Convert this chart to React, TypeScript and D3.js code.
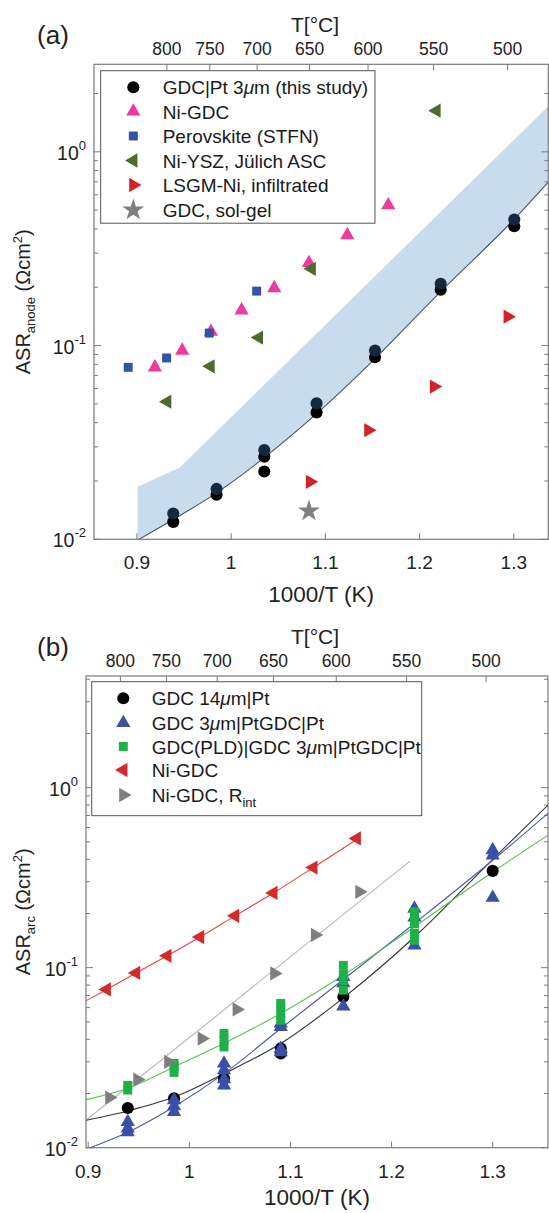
import * as d3 from "d3";
import type { ReactNode } from "react";

const FONT = "'Liberation Sans', Arial, Helvetica, sans-serif";
const W = 549;
const H = 1213;

// ---------- panel (a): ASR anode ----------
const gdcPtUpperX = [0.9386, 0.9846, 1.0352, 1.0907, 1.1527, 1.2224, 1.3005];
const gdcPtUpperY = [0.0136, 0.0182, 0.0289, 0.0503, 0.0942, 0.2085, 0.447];
const gdcPtLowerX = [0.9386, 0.9846, 1.0352, 1.0352, 1.0907, 1.1527, 1.2224, 1.3005];
const gdcPtLowerY = [0.0123, 0.017, 0.0267, 0.0224, 0.0452, 0.087, 0.194, 0.413];
const niGdcX = [0.9191, 0.9481, 0.9786, 1.0111, 1.0458, 1.0826, 1.1233, 1.1668];
const niGdcY = [0.0772, 0.0942, 0.118, 0.152, 0.198, 0.267, 0.371, 0.53];
const stfnX = [0.8908, 0.9315, 0.9768, 1.0271];
const stfnY = [0.0772, 0.0863, 0.116, 0.191];
const niYszX = [0.9322, 0.9782, 1.0295, 1.0855, 1.218];
const niYszY = [0.0513, 0.0781, 0.11, 0.249, 1.63];
const lsgmX = [1.0837, 1.1456, 1.2153, 1.2935];
const lsgmY = [0.0198, 0.0366, 0.0614, 0.141];
const solGelX = [1.0826];
const solGelY = [0.014];
const fitAX = [0.9007, 0.9386, 0.9846, 1.0352, 1.0907, 1.1527, 1.2224, 1.3005, 1.3366];
const fitAY = [0.0099, 0.01265, 0.01737, 0.0264, 0.0445, 0.0857, 0.19, 0.449, 0.697];
const bandTopX = [0.9007, 0.9456, 1.3366];
const bandTopY = [0.01866, 0.02346, 1.72];

// ---------- panel (b): ASR arc ----------
const gdc14X = [0.9391, 0.9849, 1.0343, 1.0904, 1.0904, 1.1523, 1.3];
const gdc14Y = [0.0166, 0.0188, 0.0242, 0.0356, 0.0334, 0.0689, 0.345];
const gdc3X = [0.9391, 0.9391, 0.9391, 0.9849, 0.9849, 0.9849, 1.0343, 1.0343, 1.0343, 1.0343,
  1.0904, 1.0904, 1.0904, 1.0904, 1.1523, 1.1523, 1.1523, 1.2226, 1.2226, 1.2226, 1.3, 1.3, 1.3];
const gdc3Y = [0.0139, 0.0128, 0.0122, 0.0184, 0.017, 0.0158, 0.0294, 0.027, 0.024, 0.0222,
  0.049, 0.0469, 0.0355, 0.034, 0.0889, 0.082, 0.061, 0.213, 0.19, 0.133, 0.45, 0.42, 0.245];
const pldX = [0.9391, 0.9391, 0.9849, 0.9849, 0.9849, 1.0343, 1.0343, 1.0343, 1.0904, 1.0904, 1.0904,
  1.0904, 1.1523, 1.1523, 1.1523, 1.1523, 1.2226, 1.2226, 1.2226, 1.2226, 1.2226];
const pldY = [0.0209, 0.0222, 0.0262, 0.0282, 0.0294, 0.0363, 0.0395, 0.0431, 0.0511, 0.0555, 0.06,
  0.0633, 0.075, 0.085, 0.092, 0.103, 0.142, 0.155, 0.175, 0.195, 0.204];
const niGdcBX = [0.9183, 0.9473, 0.9782, 1.0106, 1.0452, 1.0831, 1.1227, 1.1656];
const niGdcBY = [0.0757, 0.0935, 0.1164, 0.148, 0.194, 0.26, 0.36, 0.522];
const rintX = [0.9209, 0.9486, 0.9792, 1.0123, 1.0469, 1.0841, 1.1243, 1.1682];
const rintY = [0.019, 0.0239, 0.03, 0.0404, 0.0586, 0.0929, 0.152, 0.264];
const fit14X = [0.8978, 0.9391, 0.9849, 1.0343, 1.0904, 1.1523, 1.2226, 1.3, 1.3547];
const fit14Y = [0.0142, 0.016, 0.0191, 0.0258, 0.0379, 0.068, 0.148, 0.4, 0.8];
const fit3X = [0.9018, 0.9391, 0.9849, 1.0343, 1.0904, 1.1523, 1.2226, 1.3, 1.3547];
const fit3Y = [0.01, 0.0122, 0.0169, 0.0258, 0.0459, 0.086, 0.176, 0.395, 0.72];
const fitPldX = [0.8978, 0.9391, 0.9849, 1.0343, 1.0904, 1.1523, 1.2226, 1.3, 1.3547];
const fitPldY = [0.0185, 0.0214, 0.0281, 0.038, 0.0557, 0.0908, 0.1687, 0.34, 0.545];
const fitNiX = [0.8978, 0.9183, 0.9473, 0.9782, 1.0106, 1.0452, 1.0831, 1.1227, 1.1688];
const fitNiY = [0.0655, 0.0757, 0.0935, 0.1164, 0.148, 0.194, 0.26, 0.36, 0.53];
const fitRintX = [0.8978, 1.2183];
const fitRintY = [0.0142, 0.391];

// shared axis labels
const celsius = [800, 750, 700, 650, 600, 550, 500];
const invTicks = [0.9, 1.0, 1.1, 1.2, 1.3];
const decades = [0.01, 0.1, 1];

// ---------- scales ----------
const xA = d3.scaleLinear().domain([0.8545, 1.3366]).range([94, 548.3]);
const yA = d3.scaleLog().domain([0.01, 2.83]).range([539.3, 64.3]);
const xB = d3.scaleLinear().domain([0.8978, 1.3547]).range([86, 548]);
const yB = d3.scaleLog().domain([0.01, 4.17]).range([1147.7, 676]);

type Shape = "circle" | "up" | "left" | "right" | "square" | "star";

function symbolPath(shape: Shape, size: number) {
  const type =
    shape === "circle" ? d3.symbolCircle
    : shape === "square" ? d3.symbolSquare
    : shape === "star" ? d3.symbolStar
    : d3.symbolTriangle;
  return d3.symbol().type(type).size(size)() || "";
}

const SIZES: Record<Shape, number> = { circle: 115, up: 88, left: 88, right: 88, square: 80, star: 150 };
const ROT: Record<Shape, number> = { circle: 0, up: 0, left: -90, right: 90, square: 0, star: 0 };

function Marker({ shape, cx, cy, color }: { shape: Shape; cx: number; cy: number; color: string }) {
  return (
    <path
      d={symbolPath(shape, SIZES[shape])}
      transform={`translate(${cx},${cy}) rotate(${ROT[shape]})`}
      fill={color}
    />
  );
}

function Series({ xs, ys, x, y, shape, color }: {
  xs: number[]; ys: number[]; x: d3.ScaleLinear<number, number>; y: d3.ScaleLogarithmic<number, number>;
  shape: Shape; color: string;
}) {
  return (
    <g>
      {xs.map((v, i) => (
        <Marker key={i} shape={shape} cx={x(v)} cy={y(ys[i])} color={color} />
      ))}
    </g>
  );
}

function FitLine({ xs, ys, x, y, color, clip }: {
  xs: number[]; ys: number[]; x: d3.ScaleLinear<number, number>; y: d3.ScaleLogarithmic<number, number>;
  color: string; clip: string;
}) {
  const line = d3.line<number>()
    .x((v) => x(v))
    .y((_, i) => y(ys[i]))
    .curve(d3.curveMonotoneX);
  return <path d={line(xs) || ""} fill="none" stroke={color} strokeWidth={1.1} clipPath={`url(#${clip})`} />;
}

type LegendItem = { shape: Shape; color: string; label: ReactNode };

function Legend({ x0, y0, w, h, rowY, markerX, textX, items }: {
  x0: number; y0: number; w: number; h: number; rowY: number[]; markerX: number; textX: number; items: LegendItem[];
}) {
  return (
    <g>
      <rect x={x0} y={y0} width={w} height={h} fill="#fff" stroke="#555" strokeWidth={1} />
      {items.map((it, i) => (
        <g key={i}>
          <Marker shape={it.shape} cx={markerX} cy={rowY[i]} color={it.color} />
          <text x={textX} y={rowY[i] + 7} fontSize={19} fill="#1a1a1a">{it.label}</text>
        </g>
      ))}
    </g>
  );
}

function Axes({ x, y, tag, sub, clip, xlabOff }: {
  x: d3.ScaleLinear<number, number>; y: d3.ScaleLogarithmic<number, number>; tag: string; sub: string; clip: string;
  xlabOff: number;
}) {
  const [left, right] = x.range();
  const [bottom, top] = y.range();
  const [ymin, ymax] = y.domain();
  const minor: number[] = [];
  decades.forEach((d) => {
    for (let k = 2; k <= 9; k++) {
      const v = k * d;
      if (v > ymin && v < ymax) minor.push(v);
    }
  });
  const cy = (top + bottom) / 2;
  const cx = (left + right) / 2;
  const axisColor = "#7a7a7a";
  return (
    <g>
      <defs>
        <clipPath id={clip}>
          <rect x={left} y={top} width={right - left} height={bottom - top} />
        </clipPath>
      </defs>
      <rect x={left} y={top} width={right - left} height={bottom - top} fill="none" stroke={axisColor} strokeWidth={1.2} />
      {/* log y ticks, both sides */}
      {decades.filter((d) => d >= ymin && d <= ymax).map((d) => (
        <g key={`M${d}`}>
          <line x1={left} x2={left + 7} y1={y(d)} y2={y(d)} stroke={axisColor} />
          <line x1={right} x2={right - 7} y1={y(d)} y2={y(d)} stroke={axisColor} />
          <text x={left - 8} y={y(d) + 8} textAnchor="end" fontSize={19.5} fill="#222">
            10<tspan fontSize={13} dy={-10}>{Math.round(Math.log10(d))}</tspan>
          </text>
        </g>
      ))}
      {minor.map((v) => (
        <g key={`m${v}`}>
          <line x1={left} x2={left + 4} y1={y(v)} y2={y(v)} stroke={axisColor} />
          <line x1={right} x2={right - 4} y1={y(v)} y2={y(v)} stroke={axisColor} />
        </g>
      ))}
      {/* bottom 1000/T axis */}
      {invTicks.map((t) => (
        <g key={`x${t}`}>
          <line x1={x(t)} x2={x(t)} y1={bottom} y2={bottom - 6} stroke={axisColor} />
          <text x={x(t)} y={bottom + 30} textAnchor="middle" fontSize={19} fill="#222">
            {t === 1 ? "1" : t.toFixed(1)}
          </text>
        </g>
      ))}
      <text x={cx} y={bottom + xlabOff} textAnchor="middle" fontSize={22.5} fill="#222">1000/T (K)</text>
      {/* top Celsius axis */}
      {celsius.map((c) => {
        const px = x(1000 / (c + 273.15));
        return (
          <g key={`c${c}`}>
            <line x1={px} x2={px} y1={top} y2={top + 6} stroke={axisColor} />
            <text x={px} y={top - 9} textAnchor="middle" fontSize={17.5} fill="#222">{c}</text>
          </g>
        );
      })}
      <text x={315} y={top - 32} textAnchor="middle" fontSize={21} fill="#222">T[°C]</text>
      <text x={53} y={top - 20} textAnchor="middle" fontSize={26} fill="#222">{tag}</text>
      <text transform={`translate(30,${cy}) rotate(-90)`} textAnchor="middle" fontSize={20} fill="#222">
        ASR<tspan fontSize={13} dy={5}>{sub}</tspan>
        <tspan dy={-5}> (Ωcm</tspan>
        <tspan fontSize={13} dy={-8}>2</tspan>
        <tspan dy={8}>)</tspan>
      </text>
    </g>
  );
}

const C = {
  pink: "#ee3a9c",
  navyBlue: "#3452a6",
  olive: "#4f6b2b",
  red: "#d1232a",
  gray: "#7f7f7f",
  band: "#c8dcee",
  blueB: "#3a4fa6",
  greenB: "#1fb04a",
  redB: "#d42a2c",
};

function PanelA() {
  const upper = d3.line<number>().x((v) => xA(v)).y((_, i) => yA(bandTopY[i]))(bandTopX) || "";
  const lower = d3.line<number>().x((v) => xA(v)).y((_, i) => yA(fitAY[fitAY.length - 1 - i]))
    .curve(d3.curveMonotoneX)([...fitAX].reverse()) || "";
  const bandPath = `${upper}L${lower.slice(1)}Z`;
  return (
    <g>
      <path d={bandPath} fill={C.band} clipPath="url(#clipA)" />
      <FitLine xs={fitAX} ys={fitAY} x={xA} y={yA} color="#4a5562" clip="clipA" />
      <Axes x={xA} y={yA} tag="(a)" sub="anode" clip="clipA" xlabOff={63} />
      <Series xs={gdcPtLowerX} ys={gdcPtLowerY} x={xA} y={yA} shape="circle" color="#000" />
      <Series xs={gdcPtUpperX} ys={gdcPtUpperY} x={xA} y={yA} shape="circle" color="#132a3e" />
      <Series xs={niGdcX} ys={niGdcY} x={xA} y={yA} shape="up" color={C.pink} />
      <Series xs={stfnX} ys={stfnY} x={xA} y={yA} shape="square" color={C.navyBlue} />
      <Series xs={niYszX} ys={niYszY} x={xA} y={yA} shape="left" color={C.olive} />
      <Series xs={lsgmX} ys={lsgmY} x={xA} y={yA} shape="right" color={C.red} />
      <Series xs={solGelX} ys={solGelY} x={xA} y={yA} shape="star" color={C.gray} />
      <Legend
        x0={100.7} y0={70.7} w={274.3} h={152.5}
        rowY={[87.3, 111.5, 136, 160.5, 185, 210]}
        markerX={133.3} textX={162.7}
        items={[
          { shape: "circle", color: "#000", label: <>GDC|Pt 3<tspan fontStyle="italic">μ</tspan>m (this study)</> },
          { shape: "up", color: C.pink, label: "Ni-GDC" },
          { shape: "square", color: C.navyBlue, label: "Perovskite (STFN)" },
          { shape: "left", color: C.olive, label: "Ni-YSZ, Jülich ASC" },
          { shape: "right", color: C.red, label: "LSGM-Ni, infiltrated" },
          { shape: "star", color: C.gray, label: "GDC, sol-gel" },
        ]}
      />
    </g>
  );
}

function PanelB() {
  return (
    <g>
      <Axes x={xB} y={yB} tag="(b)" sub="arc" clip="clipB" xlabOff={57} />
      <FitLine xs={fitRintX} ys={fitRintY} x={xB} y={yB} color="#b5b5b5" clip="clipB" />
      <FitLine xs={fitNiX} ys={fitNiY} x={xB} y={yB} color="#e8453c" clip="clipB" />
      <FitLine xs={fit14X} ys={fit14Y} x={xB} y={yB} color="#333" clip="clipB" />
      <FitLine xs={fit3X} ys={fit3Y} x={xB} y={yB} color="#4a58b0" clip="clipB" />
      <FitLine xs={fitPldX} ys={fitPldY} x={xB} y={yB} color="#5cc24c" clip="clipB" />
      <Series xs={gdc14X} ys={gdc14Y} x={xB} y={yB} shape="circle" color="#000" />
      <Series xs={gdc3X} ys={gdc3Y} x={xB} y={yB} shape="up" color={C.blueB} />
      <Series xs={pldX} ys={pldY} x={xB} y={yB} shape="square" color={C.greenB} />
      <Series xs={niGdcBX} ys={niGdcBY} x={xB} y={yB} shape="left" color={C.redB} />
      <Series xs={rintX} ys={rintY} x={xB} y={yB} shape="right" color={C.gray} />
      <Legend
        x0={91.7} y0={681.7} w={330} h={134}
        rowY={[698.3, 723, 746.5, 770, 795]}
        markerX={123.3} textX={151.7}
        items={[
          { shape: "circle", color: "#000", label: <>GDC 14<tspan fontStyle="italic">μ</tspan>m|Pt</> },
          { shape: "up", color: C.blueB, label: <>GDC 3<tspan fontStyle="italic">μ</tspan>m|PtGDC|Pt</> },
          { shape: "square", color: C.greenB, label: <>GDC(PLD)|GDC 3<tspan fontStyle="italic">μ</tspan>m|PtGDC|Pt</> },
          { shape: "left", color: C.redB, label: "Ni-GDC" },
          { shape: "right", color: C.gray, label: <>Ni-GDC, R<tspan fontSize={13} dy={5}>int</tspan></> },
        ]}
      />
    </g>
  );
}

export default function App() {
  return (
    <svg
      width={W}
      height={H}
      viewBox={`0 0 ${W} ${H}`}
      style={{ position: "absolute", left: 0, top: 0, background: "#fff", fontFamily: FONT }}
    >
      <rect width={W} height={H} fill="#fff" />
      <PanelA />
      <PanelB />
    </svg>
  );
}
